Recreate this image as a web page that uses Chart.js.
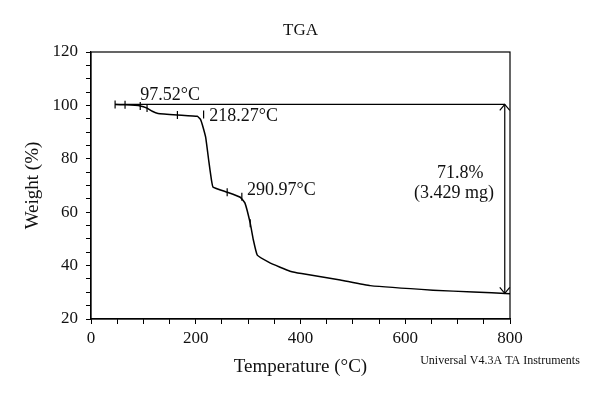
<!DOCTYPE html>
<html>
<head>
<meta charset="utf-8">
<script src="https://cdn.jsdelivr.net/npm/chart.js@4.4.0/dist/chart.umd.min.js"></script>
<style>
  html, body { margin: 0; padding: 0; background: #fff; }
  #wrap { width: 600px; height: 400px; }
</style>
</head>
<body>
<div id="wrap"><canvas id="tga"></canvas></div>
<script>
// TGA curve
const temps = [46, 65, 94, 107, 117, 128, 165, 203, 209, 213, 219, 225, 230, 233, 260, 285, 294, 304, 310, 317.5, 340, 361, 380, 402, 476, 533, 653, 730, 800];
const weights = [100.3, 100.2, 99.8, 99.0, 97.8, 97.0, 96.4, 95.9, 94.8, 92.5, 88.0, 79.0, 72.0, 69.4, 67.5, 65.6, 63.4, 55.9, 49.6, 43.9, 41.2, 39.4, 37.9, 37.0, 34.6, 32.5, 30.8, 30.1, 29.5];

// small marks on the curve
const markTemps = [46, 65, 94, 107, 165, 215, 260, 288, 304];
const markWeights = [100.3, 100.2, 99.8, 99.0, 96.4, 96.6, 67.5, 65.8, 55.9];

// 100 % reference line and loss arrow
const baseTemps = [46, 790];
const baseWeight = 100.4;
const residueWeight = 29.6;
const arrowTemp = 790;

const xTicks = [0, 200, 400, 600, 800];
const yTicks = [20, 40, 60, 80, 100, 120];

const notes = [
  { text: "97.52°C", x: 94, y: 103.8, align: "left" },
  { text: "218.27°C", x: 226, y: 95.8, align: "left" },
  { text: "290.97°C", x: 298, y: 68.1, align: "left" },
  { text: "71.8%", x: 705, y: 74.6, align: "center" },
  { text: "(3.429 mg)", x: 693, y: 67.1, align: "center" },
];

const serif = "'Liberation Serif', 'DejaVu Serif', serif";

const extras = {
  id: "extras",
  afterDatasetsDraw(chart) {
    const { ctx, chartArea: a, scales: { x, y } } = chart;
    ctx.save();
    // frame
    ctx.strokeStyle = "#000";
    ctx.lineWidth = 1.2;
    ctx.strokeRect(a.left, a.top, a.right - a.left, a.bottom - a.top);

    // arrow heads
    const ax = x.getPixelForValue(arrowTemp);
    const top = y.getPixelForValue(baseWeight);
    const bot = y.getPixelForValue(residueWeight);
    ctx.beginPath();
    ctx.moveTo(ax - 5, top + 6); ctx.lineTo(ax, top); ctx.lineTo(ax + 5, top + 6);
    ctx.moveTo(ax - 5, bot - 6); ctx.lineTo(ax, bot); ctx.lineTo(ax + 5, bot - 6);
    ctx.stroke();

    // title and notes
    ctx.fillStyle = "#111";
    ctx.textBaseline = "middle";
    ctx.font = "17px " + serif;
    ctx.textAlign = "center";
    ctx.fillText("TGA", (a.left + a.right) / 2, 31);
    ctx.font = "18px " + serif;
    notes.forEach((n) => {
      ctx.textAlign = n.align;
      ctx.fillText(n.text, x.getPixelForValue(n.x), y.getPixelForValue(n.y));
    });
    ctx.font = "12px " + serif;
    ctx.textAlign = "center";
    ctx.fillText("Universal V4.3A TA Instruments", 500, 361);
    ctx.restore();
  },
};

new Chart(document.getElementById("tga"), {
  type: "scatter",
  data: {
    datasets: [
      {
        data: temps.map((t, i) => ({ x: t, y: weights[i] })),
        showLine: true,
        borderColor: "#000",
        borderWidth: 1.5,
        pointRadius: 0,
        tension: 0.1,
      },
      {
        data: baseTemps.map((t) => ({ x: t, y: baseWeight })),
        showLine: true,
        borderColor: "#000",
        borderWidth: 1.2,
        pointRadius: 0,
      },
      {
        data: [{ x: arrowTemp, y: baseWeight }, { x: arrowTemp, y: residueWeight }],
        showLine: true,
        borderColor: "#000",
        borderWidth: 1.2,
        pointRadius: 0,
      },
      {
        data: markTemps.map((t, i) => ({ x: t, y: markWeights[i] })),
        pointStyle: "line",
        rotation: 90,
        pointRadius: 4,
        borderColor: "#000",
        borderWidth: 1.2,
      },
    ],
  },
  options: {
    responsive: true,
    maintainAspectRatio: false,
    animation: false,
    layout: { padding: { left: 0, right: 90, top: 52, bottom: 0 } },
    plugins: {
      legend: { display: false },
      tooltip: { enabled: false },
    },
    scales: {
      x: {
        type: "linear",
        min: 0,
        max: 800,
        afterFit: (s) => { s.height = 81; },
        ticks: {
          stepSize: 50,
          autoSkip: false,
          maxRotation: 0,
          padding: 4,
          color: "#111",
          font: { family: serif, size: 17 },
          callback: (v) => (xTicks.includes(v) ? v : ""),
        },
        grid: { drawOnChartArea: false, tickLength: 5, color: "#000" },
        border: { color: "#000", width: 1.2 },
        title: {
          display: true,
          text: "Temperature (°C)",
          color: "#111",
          font: { family: serif, size: 19 },
          padding: { top: 0, bottom: 22 },
        },
      },
      y: {
        min: 20,
        max: 120,
        afterFit: (s) => { s.width = 91; },
        ticks: {
          stepSize: 5,
          autoSkip: false,
          padding: 8,
          color: "#111",
          font: { family: serif, size: 17 },
          callback: (v) => (yTicks.includes(v) ? v : ""),
        },
        grid: { drawOnChartArea: false, tickLength: 5, color: "#000" },
        border: { color: "#000", width: 1.2 },
        title: {
          display: true,
          text: "Weight (%)",
          color: "#111",
          font: { family: serif, size: 19 },
          padding: { top: 22, bottom: 0 },
        },
      },
    },
  },
  plugins: [extras],
});
</script>
</body>
</html>
